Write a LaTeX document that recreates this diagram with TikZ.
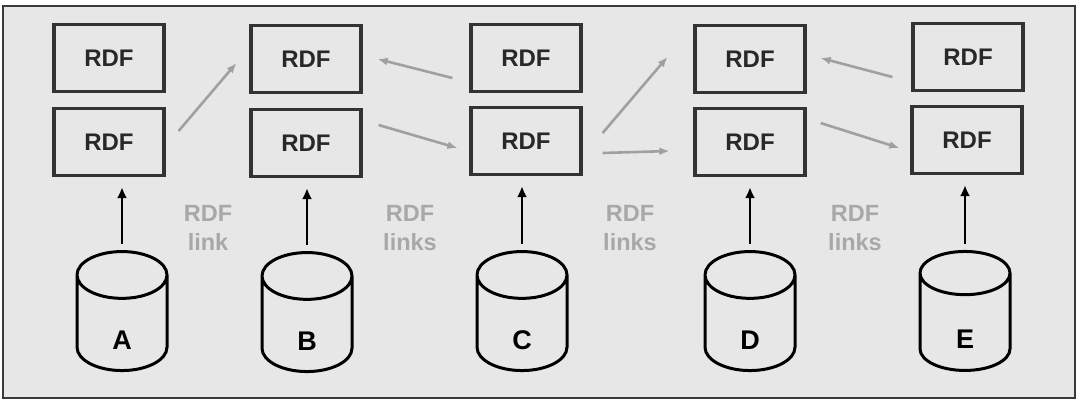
\documentclass[tikz,border=0pt]{standalone}
\usepackage{fontspec}
\setmainfont{Liberation Sans}
\usetikzlibrary{shapes.geometric,arrows.meta,calc}

\newcommand{\dbletter}[1]{\raisebox{-26pt}[0pt][0pt]{#1}}

\tikzset{
  rdfbox/.style={draw={rgb,255:red,51;green,51;blue,51}, line width=3.2pt, minimum width=110pt, minimum height=67pt, inner sep=0pt, font=\fontsize{24}{26}\selectfont\bfseries, text={rgb,255:red,40;green,40;blue,40}},
  dbcyl/.style={cylinder, shape border rotate=90, aspect=2.4, draw=black, line width=3pt, minimum width=90pt, minimum height=119pt, inner sep=0pt, font=\fontsize{27}{29}\selectfont\bfseries},
  linklabel/.style={align=center, font=\fontsize{23.5}{29}\selectfont\bfseries, text={rgb,255:red,168;green,168;blue,168}},
  linkarrow/.style={draw={rgb,255:red,160;green,160;blue,160}, line width=2.6pt, -{Latex[length=10pt,width=8pt]}},
  dataarrow/.style={draw=black, line width=2.8pt, -{Latex[length=11pt,width=10pt]}}
}

\begin{document}
\begin{tikzpicture}[x=1pt,y=1pt,yscale=-1,xscale=1]
            \useasboundingbox (0,0) rectangle (1090,400);
            %Shape: Rectangle [id:frame]
            \draw [draw={rgb,255:red,58;green,58;blue,58}, fill={rgb,255:red,231;green,231;blue,231}, line width=2pt] (3,6) rectangle (1075,398);

            % RDF boxes
            \node [rdfbox] (rdfA1) at (109,58) {RDF};
            \node [rdfbox] (rdfA2) at (109,142) {RDF};
            \node [rdfbox] (rdfB1) at (306,59) {RDF};
            \node [rdfbox] (rdfB2) at (306,143) {RDF};
            \node [rdfbox] (rdfC1) at (526,58) {RDF};
            \node [rdfbox] (rdfC2) at (526,141) {RDF};
            \node [rdfbox] (rdfD1) at (750,59) {RDF};
            \node [rdfbox] (rdfD2) at (750,142) {RDF};
            \node [rdfbox] (rdfE1) at (968,57) {RDF};
            \node [rdfbox] (rdfE2) at (967,140) {RDF};

            % Data sources
            \node [dbcyl] (dbA) at (122,323.5) {\dbletter{A}};
            \node [dbcyl] (dbB) at (307,324.5) {\dbletter{B}};
            \node [dbcyl] (dbC) at (522,323.5) {\dbletter{C}};
            \node [dbcyl] (dbD) at (750,323.5) {\dbletter{D}};
            \node [dbcyl] (dbE) at (965,322.5) {\dbletter{E}};

            % Text Node
            \node [linklabel] (lnkAB) at (208,228) {RDF\\link};
            % Text Node
            \node [linklabel] (lnkBC) at (410,228) {RDF\\links};
            % Text Node
            \node [linklabel] (lnkCD) at (630,228) {RDF\\links};
            % Text Node
            \node [linklabel] (lnkDE) at (855,228) {RDF\\links};

            %Straight Lines [id:source arrows]
            \draw [dataarrow, shorten <=6pt, shorten >=10pt] (dbA.north) -- (dbA.north |- rdfA2.south);
            \draw [dataarrow, shorten <=6pt, shorten >=10pt] (dbB.north) -- (dbB.north |- rdfB2.south);
            \draw [dataarrow, shorten <=6pt, shorten >=10pt] (dbC.north) -- (dbC.north |- rdfC2.south);
            \draw [dataarrow, shorten <=6pt, shorten >=10pt] (dbD.north) -- (dbD.north |- rdfD2.south);
            \draw [dataarrow, shorten <=6pt, shorten >=10pt] (dbE.north) -- (dbE.north |- rdfE2.south);

            %Straight Lines [id:rdf links]
            \draw [linkarrow] ($(rdfA2.east)+(13,-11)$) -- ($(rdfB1.west)+(-13,4)$);
            \draw [linkarrow] ($(rdfC1.west)+(-17,20)$) -- ($(rdfB1.east)+(15,0)$);
            \draw [linkarrow] ($(rdfB2.east)+(16,-18)$) -- ($(rdfC2.west)+(-12,7)$);
            \draw [linkarrow] ($(rdfC2.east)+(20,-8)$) -- ($(rdfD1.west)+(-26,-2)$);
            \draw [linkarrow] ($(rdfC2.east)+(20,12)$) -- ($(rdfD2.west)+(-24,9)$);
            \draw [linkarrow] ($(rdfE1.west)+(-19,20)$) -- ($(rdfD1.east)+(14,-1)$);
            \draw [linkarrow] ($(rdfD2.east)+(14,-19)$) -- ($(rdfE2.west)+(-11,8)$);

\end{tikzpicture}
\end{document}
